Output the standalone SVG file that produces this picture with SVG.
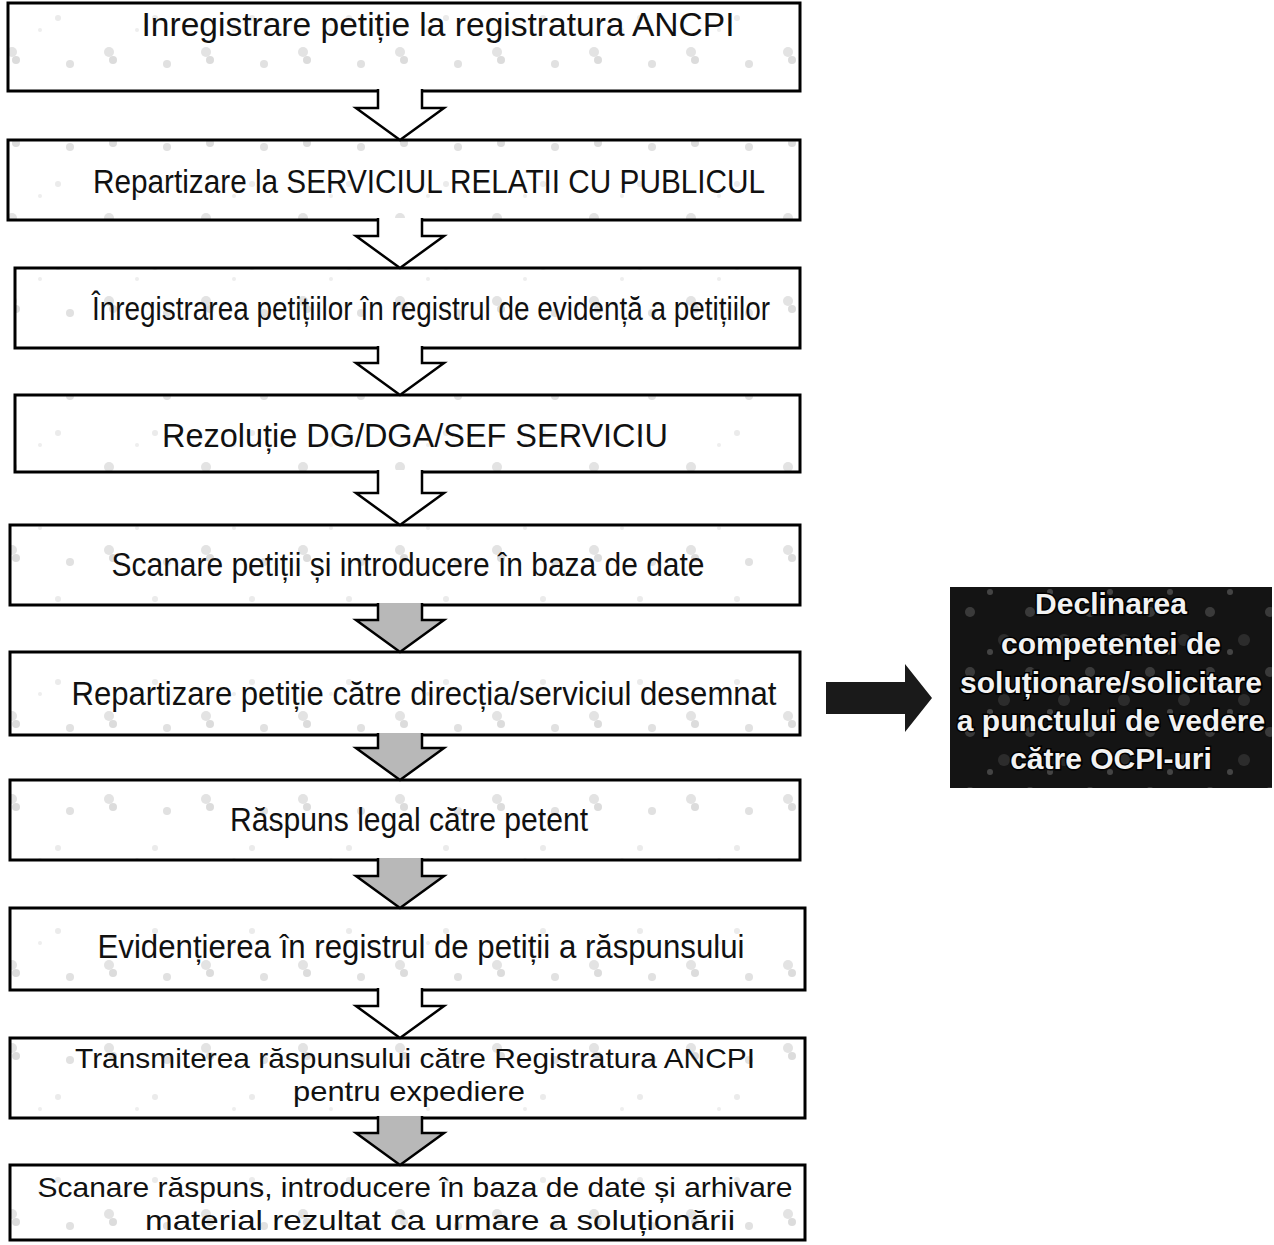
<svg xmlns="http://www.w3.org/2000/svg" width="1274" height="1245" viewBox="0 0 1274 1245">
<defs>
<pattern id="noise" width="97" height="83" patternUnits="userSpaceOnUse">
<rect width="97" height="83" fill="#ffffff"/>
<circle cx="12" cy="52" r="5" fill="#e3e3e3"/>
<circle cx="16" cy="60" r="4" fill="#dcdcdc"/>
<circle cx="58" cy="18" r="3" fill="#ebebeb"/>
<circle cx="70" cy="64" r="4" fill="#e1e1e1"/>
<circle cx="40" cy="30" r="2" fill="#eeeeee"/>
</pattern>
<pattern id="dark" width="60" height="60" patternUnits="userSpaceOnUse">
<rect width="60" height="60" fill="#141414"/>
<circle cx="10" cy="12" r="5" fill="#3a3a3a"/>
<circle cx="44" cy="40" r="6" fill="#2c2c2c"/>
<circle cx="30" cy="52" r="3" fill="#444"/>
</pattern>
</defs>
<style>
.box{fill:url(#noise);stroke:#000;stroke-width:3}
.t{font-family:"Liberation Sans",Arial,sans-serif;font-size:33px;fill:#111;text-anchor:middle}
.s{font-size:28px}
.arr{stroke:#000;stroke-width:2.5;stroke-linejoin:miter}
.w{fill:#ffffff}
.g{fill:#b8b8b8}
.rt{font-family:"Liberation Sans",Arial,sans-serif;font-size:30px;font-weight:bold;fill:#f2f2f2;stroke:#000;stroke-width:3;paint-order:stroke;text-anchor:middle}
</style>

<g id="n1"><rect class="box" x="8" y="3" width="792" height="88"/><text class="t" x="438" y="36" textLength="593" lengthAdjust="spacingAndGlyphs">Inregistrare petiție la registratura ANCPI</text></g>
<g id="n2"><rect class="box" x="8" y="140" width="792" height="80"/><text class="t" x="429" y="193" textLength="672" lengthAdjust="spacingAndGlyphs">Repartizare la SERVICIUL RELATII CU PUBLICUL</text></g>
<g id="n3"><rect class="box" x="15" y="268" width="785" height="80"/><text class="t" x="431" y="320" textLength="678" lengthAdjust="spacingAndGlyphs">Înregistrarea petițiilor în registrul de evidență a petițiilor</text></g>
<g id="n4"><rect class="box" x="15" y="395" width="785" height="77"/><text class="t" x="415" y="447" textLength="506" lengthAdjust="spacingAndGlyphs">Rezoluție DG/DGA/SEF SERVICIU</text></g>
<g id="n5"><rect class="box" x="10" y="525" width="790" height="80"/><text class="t" x="408" y="576" textLength="593" lengthAdjust="spacingAndGlyphs">Scanare petiții și introducere în baza de date</text></g>
<g id="n6"><rect class="box" x="10" y="652" width="790" height="83"/><text class="t" x="424" y="705" textLength="705" lengthAdjust="spacingAndGlyphs">Repartizare petiție către direcția/serviciul desemnat</text></g>
<g id="n7"><rect class="box" x="10" y="780" width="790" height="80"/><text class="t" x="409" y="831" textLength="358" lengthAdjust="spacingAndGlyphs">Răspuns legal către petent</text></g>
<g id="n8"><rect class="box" x="10" y="908" width="795" height="82"/><text class="t" x="421" y="958" textLength="647" lengthAdjust="spacingAndGlyphs">Evidențierea în registrul de petiții a răspunsului</text></g>
<g id="n9"><rect class="box" x="10" y="1038" width="795" height="80"/><text class="t s" x="415" y="1068" textLength="680" lengthAdjust="spacingAndGlyphs">Transmiterea răspunsului către Registratura ANCPI</text><text class="t s" x="409" y="1101" textLength="232" lengthAdjust="spacingAndGlyphs">pentru expediere</text></g>
<g id="n10"><rect class="box" x="10" y="1165" width="795" height="75"/><text class="t s" x="415" y="1197" textLength="755" lengthAdjust="spacingAndGlyphs">Scanare răspuns, introducere în baza de date și arhivare</text><text class="t s" x="440" y="1230" textLength="590" lengthAdjust="spacingAndGlyphs">material rezultat ca urmare a soluționării</text></g>
<g id="n11"><rect x="950" y="587" width="322" height="201" fill="url(#dark)"/>
<text class="rt" x="1111" y="614">Declinarea</text>
<text class="rt" x="1111" y="654">competentei de</text>
<text class="rt" x="1111" y="693">soluționare/solicitare</text>
<text class="rt" x="1111" y="731">a punctului de vedere</text>
<text class="rt" x="1111" y="769">către OCPI-uri</text></g>

<g id="connectors">
<path class="arr w" d="M378 89 V108 H356 L400 140 L444 108 H422 V89"/>
<path class="arr w" d="M378 218 V236 H356 L400 268 L444 236 H422 V218"/>
<path class="arr w" d="M378 346 V363 H356 L400 395 L444 363 H422 V346"/>
<path class="arr w" d="M378 470 V493 H356 L400 525 L444 493 H422 V470"/>
<path class="arr g" d="M378 603 V620 H356 L400 652 L444 620 H422 V603"/>
<path class="arr g" d="M378 733 V748 H356 L400 780 L444 748 H422 V733"/>
<path class="arr g" d="M378 858 V876 H356 L400 908 L444 876 H422 V858"/>
<path class="arr w" d="M378 988 V1006 H356 L400 1038 L444 1006 H422 V988"/>
<path class="arr g" d="M378 1116 V1133 H356 L400 1165 L444 1133 H422 V1116"/>
<path d="M826 682 H905 V664 L932 698 L905 732 V714 H826 Z" fill="#1a1a1a"/>
</g>
</svg>
